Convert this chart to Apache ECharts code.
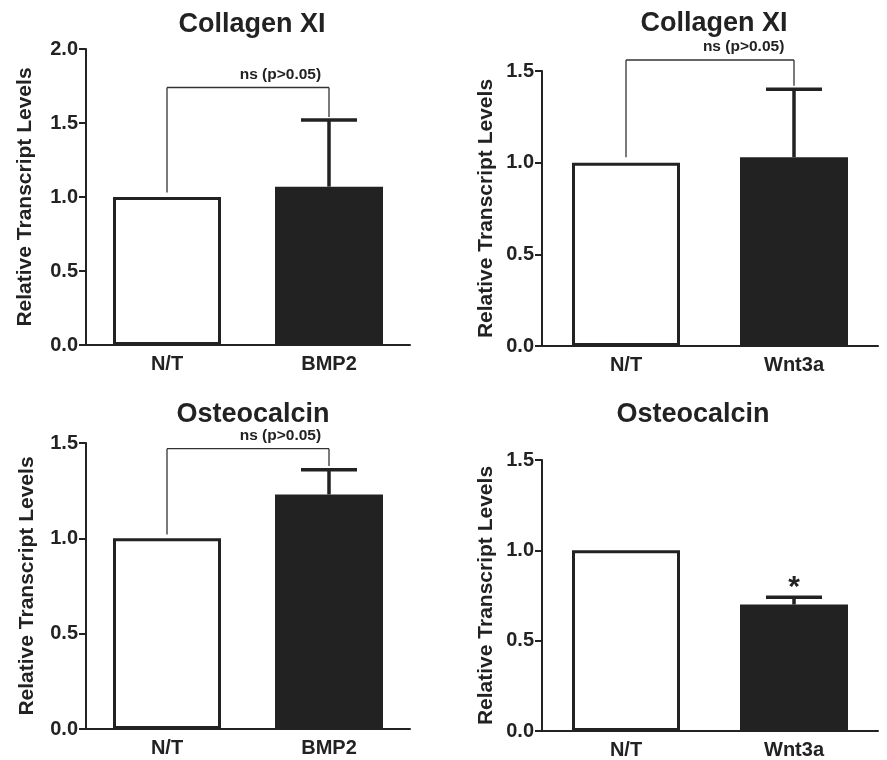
<!DOCTYPE html>
<html>
<head>
<meta charset="utf-8">
<script src="https://cdn.jsdelivr.net/npm/echarts@6/dist/echarts.min.js"></script>
<style>
  html, body { margin: 0; background: #fff; }
  #chart { width: 887px; height: 760px; }
</style>
</head>
<body>
<div id="chart"></div>
<script>
// panel order: top-left, top-right, bottom-left, bottom-right
const titles = ['Collagen XI', 'Collagen XI', 'Osteocalcin', 'Osteocalcin']
const controlName = 'N/T'
const treatments = ['BMP2', 'Wnt3a', 'BMP2', 'Wnt3a']
const controlValues = [1.0, 1.0, 1.0, 1.0]
const treatValues = [1.07, 1.03, 1.23, 0.70]
const treatErrors = [0.45, 0.37, 0.13, 0.04]
const yMaxes = [2.0, 1.5, 1.5, 1.5]
const sigLabels = ['ns (p>0.05)', 'ns (p>0.05)', 'ns (p>0.05)', '*']
// bracket: [top, left leg end, right leg end]  (null = no bracket)
const brackets = [[1.74, 1.03, 1.54], [1.56, 1.03, 1.42], [1.47, 1.02, 1.38], null]

const INK = '#222'
const FONT = '"Liberation Sans", Arial, Helvetica, sans-serif'

// layout of the four panels
const gridBoxes = [
  { left: 86, top: 49, width: 324, height: 296 },
  { left: 542, top: 71, width: 336, height: 275 },
  { left: 86, top: 443, width: 324, height: 286 },
  { left: 542, top: 460, width: 336, height: 271 },
]
const titlePos = [[247, 6], [709, 5], [248, 396], [688, 396]]
const nameGaps = [50, 45, 48, 45]

const chart = echarts.init(document.getElementById('chart'))

const grid = [], xAxis = [], yAxis = [], title = [], series = []

titles.forEach((t, i) => {
  grid.push(Object.assign({ containLabel: false }, gridBoxes[i]))
  title.push({
    text: t,
    left: titlePos[i][0],
    top: titlePos[i][1],
    textAlign: 'center',
    textStyle: { fontFamily: FONT, fontSize: 27, fontWeight: 'bold', color: INK },
  })
  xAxis.push({
    type: 'category',
    gridIndex: i,
    data: [controlName, treatments[i]],
    axisLine: { lineStyle: { color: INK, width: 2 } },
    axisTick: { alignWithLabel: true, length: 6, lineStyle: { color: INK, width: 2 } },
    axisLabel: { fontFamily: FONT, fontSize: 20, fontWeight: 'bold', color: INK, margin: 9 },
  })
  yAxis.push({
    type: 'value',
    gridIndex: i,
    min: 0,
    max: yMaxes[i],
    interval: 0.5,
    name: 'Relative Transcript Levels',
    nameLocation: 'middle',
    nameRotate: 90,
    nameGap: nameGaps[i],
    nameTextStyle: { fontFamily: FONT, fontSize: 21, fontWeight: 'bold', color: INK },
    axisLine: { show: true, lineStyle: { color: INK, width: 2 } },
    axisTick: { show: true, length: 7, lineStyle: { color: INK, width: 2 } },
    splitLine: { show: false },
    axisLabel: {
      fontFamily: FONT, fontSize: 20, fontWeight: 'bold', color: INK, margin: 8,
      formatter: (v) => v.toFixed(1),
    },
  })

  series.push({
    type: 'bar',
    xAxisIndex: i,
    yAxisIndex: i,
    barWidth: 108,
    itemStyle: { borderColor: INK, borderWidth: 3 },
    data: [
      { value: controlValues[i], itemStyle: { color: '#fff' } },
      { value: treatValues[i], itemStyle: { color: INK } },
    ],
    z: 2,
  })

  // error bar (upper only) + optional star
  const star = sigLabels[i] === '*'
  series.push({
    type: 'custom',
    xAxisIndex: i,
    yAxisIndex: i,
    data: [[1, treatValues[i], treatValues[i] + treatErrors[i]]],
    z: 3,
    renderItem(params, api) {
      const base = api.coord([api.value(0), api.value(1)])
      const top = api.coord([api.value(0), api.value(2)])
      const children = [
        { type: 'line', shape: { x1: base[0], y1: base[1], x2: top[0], y2: top[1] },
          style: { stroke: INK, lineWidth: 3.5 } },
        { type: 'line', shape: { x1: top[0] - 28, y1: top[1], x2: top[0] + 28, y2: top[1] },
          style: { stroke: INK, lineWidth: 3.5 } },
      ]
      if (star) {
        children.push({
          type: 'text',
          style: {
            text: '*', x: top[0], y: top[1] + 5,
            align: 'center', verticalAlign: 'bottom',
            font: 'bold 30px ' + FONT, fill: INK,
          },
        })
      }
      return { type: 'group', children }
    },
  })

  // significance bracket
  if (brackets[i]) {
    const [bt, bl, br] = brackets[i]
    const label = sigLabels[i]
    series.push({
      type: 'custom',
      xAxisIndex: i,
      yAxisIndex: i,
      data: [[0, bt, 1, bl, br]],
      z: 4,
      renderItem(params, api) {
        const pl = api.coord([api.value(0), api.value(1)])
        const pr = api.coord([api.value(2), api.value(1)])
        const lEnd = api.coord([api.value(0), api.value(3)])
        const rEnd = api.coord([api.value(2), api.value(4)])
        const style = { stroke: '#333', lineWidth: 1.3 }
        const tx = pl[0] + 0.7 * (pr[0] - pl[0])
        return {
          type: 'group',
          children: [
            { type: 'line', shape: { x1: pl[0], y1: pl[1], x2: pr[0], y2: pr[1] }, style },
            { type: 'line', shape: { x1: pl[0], y1: pl[1], x2: lEnd[0], y2: lEnd[1] }, style },
            { type: 'line', shape: { x1: pr[0], y1: pr[1], x2: rEnd[0], y2: rEnd[1] }, style },
            { type: 'text', style: {
                text: label, x: tx, y: pl[1] - 13,
                align: 'center', verticalAlign: 'middle',
                font: 'bold 15.5px ' + FONT, fill: INK,
              } },
          ],
        }
      },
    })
  }
})

chart.setOption({
  animation: false,
  backgroundColor: '#fff',
  title, grid, xAxis, yAxis, series,
})
</script>
</body>
</html>
